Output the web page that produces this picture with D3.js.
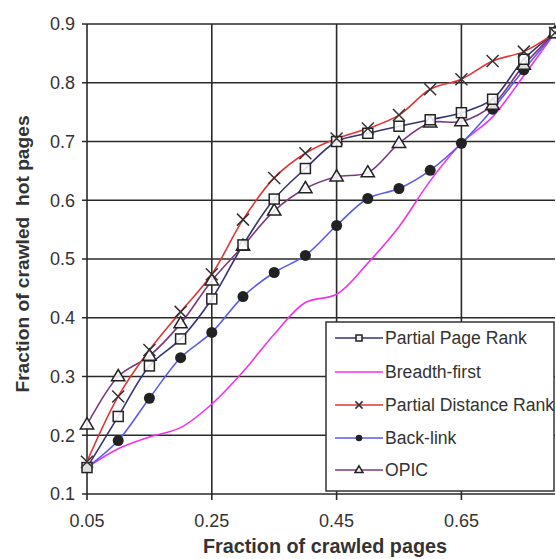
<!DOCTYPE html>
<html><head><meta charset="utf-8">
<script src="https://cdn.jsdelivr.net/npm/d3@7"></script>
<style>body{margin:0;background:#fff}svg{display:block}text{font-family:Arial,"Liberation Sans",sans-serif}</style>
</head><body>
<svg id="c" width="556" height="559"></svg>
<script>
const xValues = [0.05,0.10,0.15,0.20,0.25,0.30,0.35,0.40,0.45,0.50,0.55,0.60,0.65,0.70,0.75,0.80];
const partialPageRank = [0.145,0.232,0.318,0.364,0.432,0.524,0.602,0.654,0.700,0.714,0.726,0.737,0.749,0.772,0.840,0.885];
const breadthFirst = [0.145,0.177,0.197,0.213,0.253,0.308,0.372,0.426,0.440,0.493,0.555,0.633,0.697,0.742,0.812,0.885];
const partialDistanceRank = [0.155,0.266,0.345,0.410,0.474,0.567,0.638,0.680,0.705,0.722,0.745,0.789,0.806,0.837,0.853,0.885];
const backLink = [0.145,0.191,0.263,0.332,0.375,0.436,0.477,0.506,0.557,0.603,0.620,0.651,0.697,0.755,0.822,0.885];
const opic = [0.218,0.300,0.335,0.390,0.463,0.522,0.582,0.620,0.640,0.647,0.697,0.732,0.734,0.762,0.830,0.885];
const xTicks = [0.05,0.25,0.45,0.65];
const yTicks = [0.1,0.2,0.3,0.4,0.5,0.6,0.7,0.8,0.9];
const seriesNames = ["Partial Page Rank","Breadth-first","Partial Distance Rank","Back-link","OPIC"];

const series = [
  {name:seriesNames[0], vals:partialPageRank, color:"#34346e", marker:"square"},
  {name:seriesNames[1], vals:breadthFirst, color:"#ee33ee", marker:"none"},
  {name:seriesNames[2], vals:partialDistanceRank, color:"#e03535", marker:"cross"},
  {name:seriesNames[3], vals:backLink, color:"#5a5af0", marker:"circle"},
  {name:seriesNames[4], vals:opic, color:"#7a3a7e", marker:"triangle"}
];

const svg = d3.select("#c");
const x = d3.scaleLinear().domain([0.05,0.8]).range([87,555]);
const y = d3.scaleLinear().domain([0.1,0.9]).range([494,24]);
const gridColor = "#2a2a2a";

// horizontal grid
svg.append("g").selectAll("line").data(yTicks).join("line")
  .attr("x1",x(0.05)-5).attr("x2",x(0.8)).attr("y1",d=>y(d)).attr("y2",d=>y(d))
  .attr("stroke",gridColor).attr("stroke-width",1.6);
// vertical grid
svg.append("g").selectAll("line").data(xTicks).join("line")
  .attr("x1",d=>x(d)).attr("x2",d=>x(d)).attr("y1",y(0.9)).attr("y2",y(0.1)+6)
  .attr("stroke",gridColor).attr("stroke-width",1.6);

// tick labels
svg.append("g").selectAll("text").data(yTicks).join("text")
  .attr("x",75).attr("y",d=>y(d)).attr("dy","0.35em").attr("text-anchor","end")
  .attr("font-size",18).attr("fill","#333").text(d=>d3.format(".1f")(d));
svg.append("g").selectAll("text").data(xTicks).join("text")
  .attr("x",d=>x(d)).attr("y",527).attr("text-anchor","middle")
  .attr("font-size",18).attr("fill","#333").text(d=>d3.format(".2f")(d));

// titles
svg.append("text").attr("x",325).attr("y",553).attr("text-anchor","middle")
  .attr("font-size",19.8).attr("font-weight","bold").attr("fill","#333").text("Fraction of crawled pages");
svg.append("text").attr("transform","translate(29,254) rotate(-90)").attr("text-anchor","middle")
  .attr("font-size",19.2).attr("font-weight","bold").attr("fill","#333").style("white-space","pre")
  .text("Fraction of crawled  hot pages");

const line = d3.line().x((d,i)=>x(xValues[i])).y(d=>y(d)).curve(d3.curveCatmullRom.alpha(0.5));

function drawMarker(g, type, cx, cy, scale){
  const s = scale||1;
  if(type==="square"){
    g.append("rect").attr("x",cx-5*s).attr("y",cy-5*s).attr("width",10*s).attr("height",10*s)
      .attr("fill","#fff").attr("fill-opacity",0.85).attr("stroke","#222").attr("stroke-width",1.5);
  } else if(type==="cross"){
    const r=6*s;
    g.append("path").attr("d",`M${cx-r},${cy-r}L${cx+r},${cy+r}M${cx-r},${cy+r}L${cx+r},${cy-r}`)
      .attr("stroke","#333").attr("stroke-width",1.5).attr("fill","none");
  } else if(type==="circle"){
    g.append("circle").attr("cx",cx).attr("cy",cy).attr("r",5.5*s).attr("fill","#222");
  } else if(type==="triangle"){
    const r=7*s;
    g.append("path").attr("d",`M${cx},${cy-r}L${cx+r*0.95},${cy+r*0.6}L${cx-r*0.95},${cy+r*0.6}Z`)
      .attr("fill","#fff").attr("fill-opacity",0.85).attr("stroke","#222").attr("stroke-width",1.5);
  }
}

// lines
const drawOrder = [1,3,4,0,2];
drawOrder.forEach(k=>{
  const s = series[k];
  svg.append("path").datum(s.vals).attr("d",line).attr("fill","none")
    .attr("stroke",s.color).attr("stroke-width",1.6);
});
drawOrder.forEach(k=>{
  const s = series[k];
  const g = svg.append("g");
  s.vals.forEach((v,i)=>drawMarker(g,s.marker,x(xValues[i]),y(v),1));
});

// legend
const lg = svg.append("g");
lg.append("rect").attr("x",326).attr("y",322).attr("width",228).attr("height",169)
  .attr("fill","#fff").attr("stroke","#333").attr("stroke-width",1.5);
const ly = [338,372,405,438,470];
series.forEach((s,i)=>{
  lg.append("line").attr("x1",335).attr("x2",383).attr("y1",ly[i]).attr("y2",ly[i])
    .attr("stroke",s.color).attr("stroke-width",1.6);
  drawMarker(lg,s.marker,359,ly[i],0.6);
  lg.append("text").attr("x",385).attr("y",ly[i]).attr("dy","0.35em")
    .attr("font-size",17.6).attr("fill","#333").text(s.name);
});
</script>
</body></html>
